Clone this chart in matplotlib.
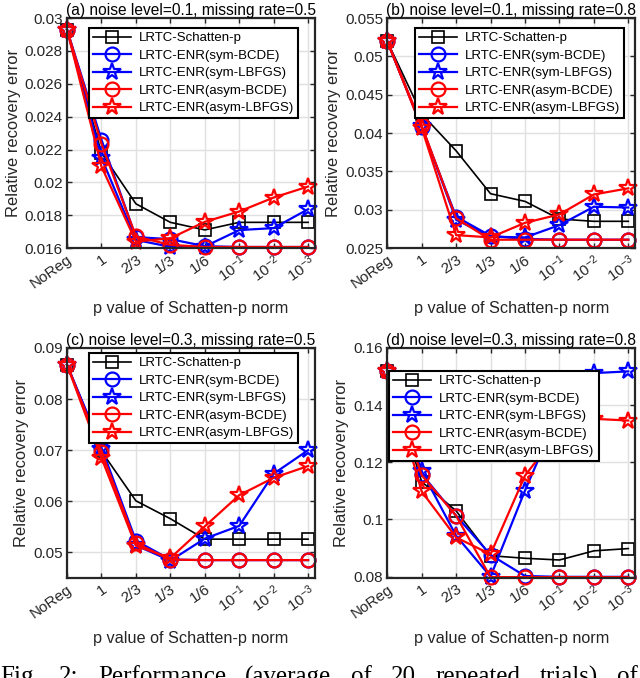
import numpy as np
import matplotlib.pyplot as plt
from matplotlib.ticker import FuncFormatter

plt.rcParams['font.family'] = ['Liberation Sans', 'DejaVu Sans']
plt.rcParams['mathtext.default'] = 'regular'

# x categories (p value of Schatten-p norm)
p_labels = ['NoReg', '1', '2/3', '1/3', '1/6', r'$10^{-1}$', r'$10^{-2}$', r'$10^{-3}$']

# (a) noise level=0.1, missing rate=0.5
a_schatten = [0.0293, 0.0218, 0.0187, 0.01757, 0.01711, 0.01757, 0.01757, 0.01757]
a_sym_bcde = [0.0293, 0.0226, 0.01667, 0.01655, 0.01612, 0.01607, 0.01607, 0.01607]
a_sym_lbfgs = [0.0293, 0.0215, 0.0165, 0.01608, 0.0161, 0.0171, 0.01722, 0.01837]
a_asym_bcde = [0.0293, 0.02235, 0.01671, 0.0162, 0.01607, 0.01607, 0.01607, 0.01607]
a_asym_lbfgs = [0.0293, 0.02097, 0.0164, 0.0166, 0.0176, 0.01823, 0.01908, 0.01975]

# (b) noise level=0.1, missing rate=0.8
b_schatten = [0.052, 0.0425, 0.0377, 0.0321, 0.0311, 0.0288, 0.0285, 0.0285]
b_sym_bcde = [0.052, 0.0408, 0.0291, 0.0266, 0.0262, 0.0261, 0.0261, 0.0261]
b_sym_lbfgs = [0.052, 0.0409, 0.0287, 0.0265, 0.0264, 0.0280, 0.0304, 0.0303]
b_asym_bcde = [0.052, 0.0410, 0.0289, 0.0261, 0.0261, 0.0261, 0.0261, 0.0261]
b_asym_lbfgs = [0.052, 0.0407, 0.0267, 0.0264, 0.0283, 0.0294, 0.0320, 0.0328]

# (c) noise level=0.3, missing rate=0.5
c_schatten = [0.0867, 0.0698, 0.0601, 0.0566, 0.0526, 0.0526, 0.0526, 0.0526]
c_sym_bcde = [0.0867, 0.0705, 0.0523, 0.0486, 0.0485, 0.0485, 0.0485, 0.0485]
c_sym_lbfgs = [0.0867, 0.0703, 0.0514, 0.0484, 0.0527, 0.0552, 0.0654, 0.0700]
c_asym_bcde = [0.0867, 0.0697, 0.0518, 0.0486, 0.0485, 0.0485, 0.0485, 0.0485]
c_asym_lbfgs = [0.0867, 0.0685, 0.0513, 0.0489, 0.0551, 0.0612, 0.0646, 0.0669]

# (d) noise level=0.3, missing rate=0.8
d_schatten = [0.152, 0.1132, 0.1030, 0.0873, 0.0864, 0.0858, 0.0890, 0.0898]
d_sym_bcde = [0.152, 0.1159, 0.1013, 0.0876, 0.0802, 0.0799, 0.0799, 0.0799]
d_sym_lbfgs = [0.152, 0.117, 0.0943, 0.0800, 0.1101, 0.138, 0.1512, 0.1518]
d_asym_bcde = [0.152, 0.1155, 0.1013, 0.0798, 0.0798, 0.0798, 0.0798, 0.0798]
d_asym_lbfgs = [0.152, 0.1098, 0.0937, 0.0878, 0.1153, 0.131, 0.1352, 0.1346]

series_labels = ['LRTC-Schatten-p', 'LRTC-ENR(sym-BCDE)', 'LRTC-ENR(sym-LBFGS)',
                 'LRTC-ENR(asym-BCDE)', 'LRTC-ENR(asym-LBFGS)']
series_styles = [('k', 's', 8, 1.2), ('b', 'o', 10, 1.6), ('b', '*', 13, 1.6),
                 ('r', 'o', 10, 1.6), ('r', '*', 13, 1.6)]

caption_words = ['Fig.', '2:', 'Performance', '(average', 'of', '20', 'repeated', 'trials)', 'of']

MATLAB_DARK = (0.15, 0.15, 0.15)


def draw_panel(ax, title, series, ylim, yticks, legend_anchor):
    x = np.arange(1, len(p_labels) + 1)
    for vals, label, (col, mk, ms, lw) in zip(series, series_labels, series_styles):
        ax.plot(x, vals, color=col, marker=mk, markersize=ms, linewidth=lw,
                markerfacecolor='none', markeredgewidth=lw, label=label, clip_on=False)
    ax.set_xlim(1, 8.2)
    ax.set_ylim(*ylim)
    ax.set_yticks(yticks)
    ax.yaxis.set_major_formatter(FuncFormatter(lambda v, pos: '%g' % round(v, 4)))
    ax.set_xticks(x)
    ax.set_xticklabels(p_labels, rotation=35, ha='right', rotation_mode='anchor')
    ax.grid(True, color=(0.88, 0.88, 0.88), linewidth=1.0)
    ax.set_axisbelow(True)
    ax.tick_params(direction='in', top=True, right=True, length=3.5, width=1.0,
                   labelsize=11, colors=MATLAB_DARK, pad=3)
    for sp in ax.spines.values():
        sp.set_linewidth(1.6)
        sp.set_color(MATLAB_DARK)
    ax.set_title(title, fontsize=11.2, pad=2, color='k')
    ax.set_xlabel('p value of Schatten-p norm', fontsize=11.7, color=MATLAB_DARK, labelpad=7)
    ax.set_ylabel('Relative recovery error', fontsize=11.9, color=MATLAB_DARK, labelpad=3)
    loc = 'upper left' if legend_anchor[0] < 0.5 else 'upper right'
    leg = ax.legend(loc=loc, bbox_to_anchor=legend_anchor, borderaxespad=0,
                    fontsize=9.5, fancybox=False, framealpha=1, edgecolor='k',
                    handlelength=2.9, borderpad=0.3, labelspacing=0.4, handletextpad=0.6)
    leg.get_frame().set_linewidth(1.5)
    leg.set_zorder(5)


fig = plt.figure(figsize=(6.4, 6.78), dpi=100)
w, h = 0.3875, 0.3393
ax_a = fig.add_axes([0.1047, 0.634, w, h])
ax_b = fig.add_axes([0.605, 0.634, w, h])
ax_c = fig.add_axes([0.1047, 0.1475, w, h])
ax_d = fig.add_axes([0.605, 0.1475, w, h])

draw_panel(ax_a, '(a) noise level=0.1, missing rate=0.5',
           [a_schatten, a_sym_bcde, a_sym_lbfgs, a_asym_bcde, a_asym_lbfgs],
           (0.016, 0.03), np.arange(0.016, 0.0301, 0.002), (0.931, 0.957))
draw_panel(ax_b, '(b) noise level=0.1, missing rate=0.8',
           [b_schatten, b_sym_bcde, b_sym_lbfgs, b_asym_bcde, b_asym_lbfgs],
           (0.025, 0.055), np.arange(0.025, 0.0551, 0.005), (0.956, 0.957))
draw_panel(ax_c, '(c) noise level=0.3, missing rate=0.5',
           [c_schatten, c_sym_bcde, c_sym_lbfgs, c_asym_bcde, c_asym_lbfgs],
           (0.045, 0.09), np.arange(0.05, 0.0901, 0.01), (0.931, 0.978))
draw_panel(ax_d, '(d) noise level=0.3, missing rate=0.8',
           [d_schatten, d_sym_bcde, d_sym_lbfgs, d_asym_bcde, d_asym_lbfgs],
           (0.0795, 0.16), np.arange(0.08, 0.1601, 0.02), (0.008, 0.9))

# caption of the paper figure (justified line, cut by the page crop)
renderer = fig.canvas.get_renderer()
fig_w = fig.get_window_extent().width
cap_texts = [fig.text(0, -0.008, wd, family=['Liberation Serif', 'DejaVu Serif'],
                      fontsize=18, va='baseline', ha='left') for wd in caption_words]
widths = [t.get_window_extent(renderer).width for t in cap_texts]
gap = (fig_w - 2 - sum(widths)) / (len(widths) - 1)
xpos = 0.0
for t, wd in zip(cap_texts, widths):
    t.set_x(xpos / fig_w)
    xpos += wd + gap

fig.savefig('out.png', dpi=100)
